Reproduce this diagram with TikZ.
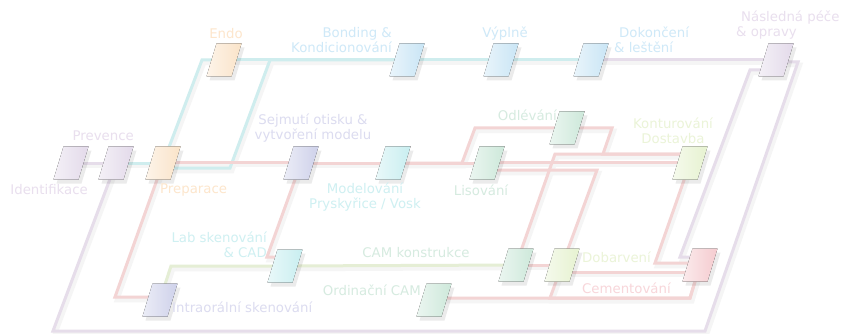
\documentclass[tikz,border=0pt]{standalone}
\usepackage{fontspec}
\setmainfont{DejaVu Sans}
\usetikzlibrary{shadows}
\pgfdeclarelayer{shl}
\pgfdeclarelayer{bg}
\pgfsetlayers{shl,bg,main}
\definecolor{nlav}{HTML}{E3DAEA}
\definecolor{npeach}{HTML}{FAE3C8}
\definecolor{nblue}{HTML}{C9E5F5}
\definecolor{nslate}{HTML}{CED1EA}
\definecolor{ncyan}{HTML}{C8EEF0}
\definecolor{ngreen}{HTML}{CDE8DA}
\definecolor{nyg}{HTML}{E6F2D0}
\definecolor{npink}{HTML}{F5CBCF}
\definecolor{tlav}{HTML}{E9DFEE}
\definecolor{tpeach}{HTML}{FDE6CC}
\definecolor{tblue}{HTML}{CFE9F8}
\definecolor{tslate}{HTML}{DCDCF0}
\definecolor{tcyan}{HTML}{CFF0F2}
\definecolor{tgreen}{HTML}{D6EBE0}
\definecolor{tyg}{HTML}{EBF4D8}
\definecolor{tpink}{HTML}{F8D6DA}
\definecolor{llav}{HTML}{E6DDEA}
\definecolor{lcyan}{HTML}{CFEDEE}
\definecolor{lred}{HTML}{F3D4D4}
\definecolor{lgreen}{HTML}{E5EED5}
\newcommand\lnk[2]{%
  \begin{pgfonlayer}{shl}\draw[lsh] #2;\end{pgfonlayer}%
  \begin{pgfonlayer}{bg}\draw[lline,#1] #2;\end{pgfonlayer}}
\newcommand\pn[4]{%
  \node[pbox] (#1) at (#3,#4) {};
  \fill[pfill=#2] ([shift={(-17.5pt,-16.5pt)}]#1.center) -- ++(25pt,0pt)
     -- ++(10pt,33pt) -- ++(-25pt,0pt) -- cycle;}
\begin{document}
\begin{tikzpicture}[x=1pt,y=-1pt,
  pbox/.style={rectangle, minimum width=25pt, minimum height=33pt, inner sep=0pt},
  pfill/.style={left color=#1!40!white, right color=#1,
    drop shadow={shadow xshift=3pt, shadow yshift=-4pt, fill=black, opacity=0.08}},
  lline/.style={line width=3pt, line join=miter},
  lsh/.style={line width=4.5pt, draw=black!4, line join=miter,
    transform canvas={shift={(2pt,-3pt)}}},
  lbl/.style={font=\fontsize{13.3}{14.5}\selectfont, inner sep=0pt},
]
\begin{pgfonlayer}{shl}
\fill[white] (0,0) rectangle (843,334);
\end{pgfonlayer}
\useasboundingbox (0,0) rectangle (843,334);
% nodes
\pn{iden}{nlav}{71}{163}
\pn{prev}{nlav}{116}{163}
\pn{prep}{npeach}{163}{163}
\pn{endo}{npeach}{224}{60}
\pn{bond}{nblue}{407}{60}
\pn{vypl}{nblue}{501}{60}
\pn{dokon}{nblue}{591}{60}
\pn{nasl}{nlav}{776}{60}
\pn{sejm}{nslate}{301}{163}
\pn{model}{ncyan}{393}{163}
\pn{lis}{ngreen}{487}{163}
\pn{odl}{ngreen}{567}{128}
\pn{kont}{nyg}{690}{163}
\pn{lab}{ncyan}{285}{266}
\pn{intra}{nslate}{160}{300}
\pn{camk}{ngreen}{516}{265}
\pn{ordc}{ngreen}{434}{300}
\pn{dob}{nyg}{562}{265}
\pn{cem}{npink}{700}{265}
% labels
\node[lbl, text=tlav, anchor=east] (t-iden) at (88,190) {Identifikace};
\node[lbl, text=tlav, anchor=east] (t-prev) at (134,136) {Prevence};
\node[lbl, text=tpeach, anchor=west] (t-prep) at (160,190) {Preparace};
\node[lbl, text=tpeach] (t-endo) at (226,34) {Endo};
\node[lbl, text=tblue, anchor=east, align=right] (t-bond) at (392,40) {Bonding \&\\Kondicionování};
\node[lbl, text=tblue] (t-vypl) at (505,34) {Výplně};
\node[lbl, text=tblue, anchor=west, align=left] (t-dokon) at (614,40) {\hspace*{5pt}Dokončení\\\& leštění};
\node[lbl, text=tlav, anchor=west, align=left] (t-nasl) at (736,25) {\hspace*{5pt}Následná péče\\\& opravy};
\node[lbl, text=tslate, align=center] (t-sejm) at (313,128) {Sejmutí otisku \&\\vytvoření modelu};
\node[lbl, text=tcyan, align=center] (t-model) at (365,197) {Modelování\\Pryskyřice / Vosk};
\node[lbl, text=tgreen] (t-lis) at (481,190) {Lisování};
\node[lbl, text=tgreen, anchor=east] (t-odl) at (557,115) {Odlévání};
\node[lbl, text=tyg, align=center] (t-kont) at (673,131) {Konturování\\Dostavba};
\node[lbl, text=tcyan, anchor=east, align=right] (t-lab) at (267,245) {Lab skenování\\\& CAD};
\node[lbl, text=tslate, anchor=west] (t-intra) at (172,307) {Intraorální skenování};
\node[lbl, text=tgreen] (t-camk) at (416,253) {CAM konstrukce};
\node[lbl, text=tgreen, anchor=east] (t-ordc) at (421,290) {Ordinační CAM};
\node[lbl, text=tyg, anchor=west] (t-dob) at (582,257) {Dobarvení};
\node[lbl, text=tpink, anchor=west] (t-cem) at (582,288) {Cementování};
% lavender connectors
\lnk{llav}{(iden.center) -- (prev.center)}
\lnk{llav}{(prev.center) -- (53,331) -- (705,331) -- (798,62) -- ([yshift=-2pt]nasl.center)}
\lnk{llav}{([yshift=8pt]cem.center) -- (680,257) -- (750,70) -- ([yshift=-10pt]nasl.center)}
\lnk{llav}{(dokon.center) -- (nasl.center)}
% cyan connectors
\lnk{lcyan}{(prev.center) -- (prep.center)}
\lnk{lcyan}{(prep.center) -- (202,60) -- (endo.center)}
\lnk{lcyan}{(endo.center) -- (bond.center)}
\lnk{lcyan}{([yshift=-5pt]prep.center) -- (230,168) -- (270,60) -- (bond.center)}
\lnk{lcyan}{(bond.center) -- (vypl.center)}
\lnk{lcyan}{(vypl.center) -- (dokon.center)}
% red connectors
\lnk{lred}{([yshift=1pt]prep.center) -- ([yshift=1pt]sejm.center)}
\lnk{lred}{(prep.center) -- (115,297) -- ([yshift=3pt]intra.center)}
\lnk{lred}{(sejm.center) -- (model.center)}
\lnk{lred}{(sejm.center) -- (267,257) -- ([yshift=9pt]lab.center)}
\lnk{lred}{(model.center) -- (lis.center)}
\lnk{lred}{(model.center) -- (462,163) -- (475,128) -- (odl.center)}
\lnk{lred}{([yshift=1pt]lis.center) -- ([yshift=1pt]kont.center)}
\lnk{lred}{(odl.center) -- (612,128) -- (603,154) -- ([yshift=9pt]kont.center)}
\lnk{lred}{(camk.center) -- (555,154) -- ([yshift=9pt]kont.center)}
\lnk{lred}{([yshift=-7pt]lis.center) -- (597,170) -- (550,298) -- (690,298) -- (cem.center)}
\lnk{lred}{([yshift=2pt]ordc.center) -- (690,298) -- (cem.center)}
\lnk{lred}{(camk.center) -- (dob.center)}
\lnk{lred}{([yshift=-7pt]dob.center) -- ([yshift=-7pt]cem.center)}
\lnk{lred}{(kont.center) -- (655,263) -- ([yshift=2pt]cem.center)}
% green connectors
\lnk{lgreen}{(intra.center) -- (171,266) -- (lab.center) -- (camk.center)}
\end{tikzpicture}
\end{document}
